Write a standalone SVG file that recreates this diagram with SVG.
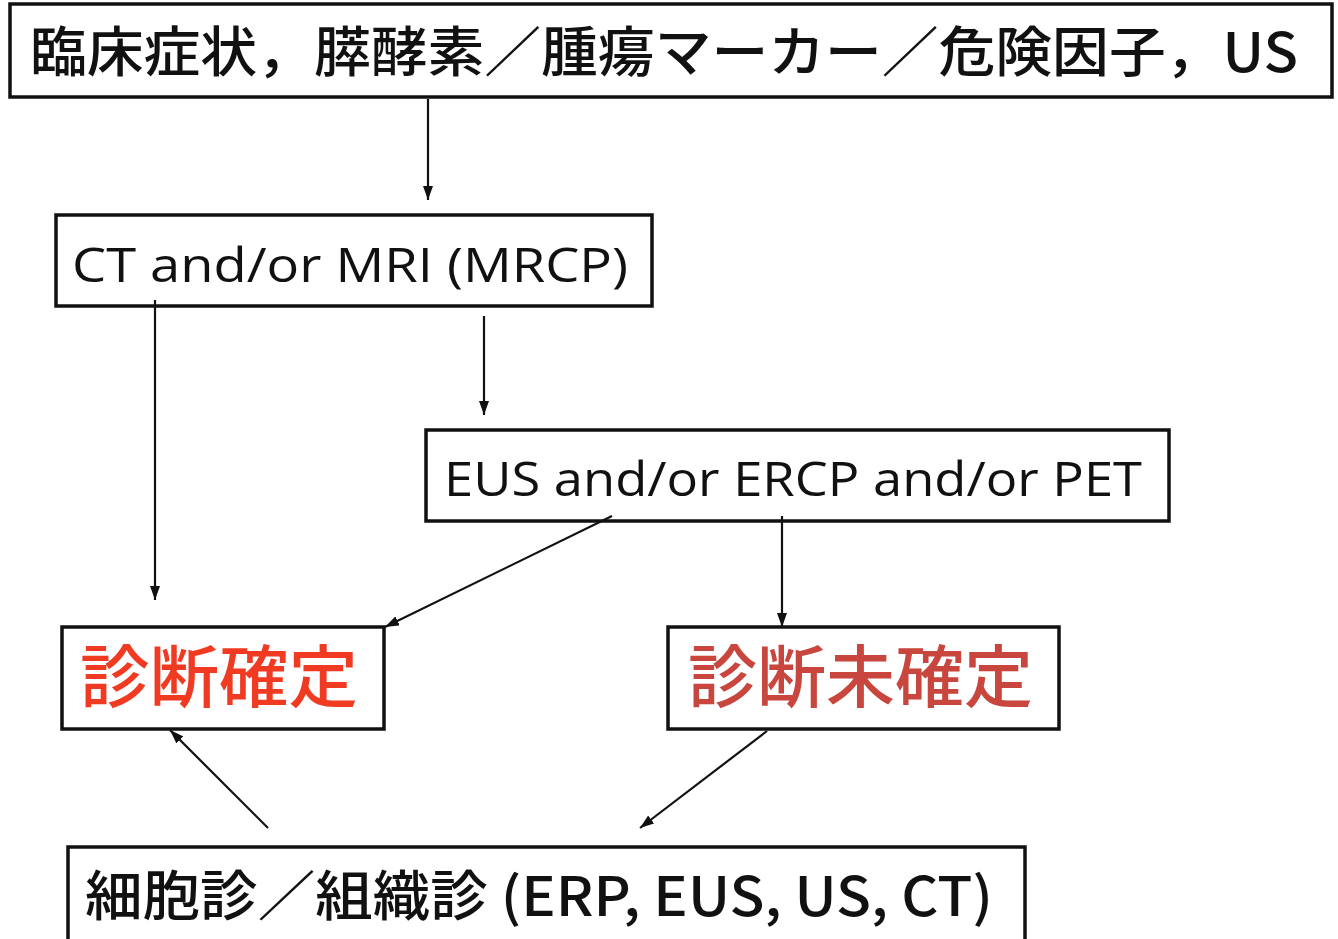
<svg xmlns="http://www.w3.org/2000/svg" width="1338" height="939" viewBox="0 0 1338 939">
<style>
.box{fill:#fff;stroke:#111;stroke-width:3.5}
.t{font-family:"Noto Sans CJK JP","Noto Sans",sans-serif;fill:#111;font-weight:500}
.lat{font-family:"Open Sans","Noto Sans",sans-serif;fill:#111}
.c{stroke:#111;stroke-width:2.2;fill:none;marker-end:url(#ah)}
</style>
<defs>
<marker id="ah" viewBox="0 0 14 10" refX="14" refY="5" markerWidth="14" markerHeight="10" markerUnits="userSpaceOnUse" orient="auto"><path d="M0,0 L14,5 L0,10 z" fill="#111"/></marker>
</defs>
<rect width="1338" height="939" fill="#fff"/>
<g id="n1"><rect class="box" x="10" y="4" width="1322" height="93"/>
<text class="t" x="30" y="72" font-size="54" textLength="1268" lengthAdjust="spacingAndGlyphs">臨床症状，膵酵素／腫瘍マーカー／危険因子，US</text></g>
<g id="n2"><rect class="box" x="56" y="215" width="596" height="91"/>
<text class="lat" x="72" y="282" font-size="47" textLength="556" lengthAdjust="spacingAndGlyphs">CT and/or MRI (MRCP)</text></g>
<g id="n3"><rect class="box" x="426" y="430" width="743" height="91"/>
<text class="lat" x="444" y="496" font-size="47" textLength="698" lengthAdjust="spacingAndGlyphs">EUS and/or ERCP and/or PET</text></g>
<g id="n4"><rect class="box" x="62" y="627" width="322" height="102"/>
<text class="t" x="80" y="702" font-size="68" style="fill:#f03a22" textLength="278" lengthAdjust="spacingAndGlyphs">診断確定</text></g>
<g id="n5"><rect class="box" x="668" y="627" width="391" height="102"/>
<text class="t" x="688" y="702" font-size="68" style="fill:#c8463e" textLength="345" lengthAdjust="spacingAndGlyphs">診断未確定</text></g>
<g id="n6"><rect class="box" x="68" y="847" width="957" height="96"/>
<text class="t" x="85" y="916" font-size="54" textLength="908" lengthAdjust="spacingAndGlyphs">細胞診／組織診 (ERP, EUS, US, CT)</text></g>
<g id="connectors">
<line class="c" x1="428" y1="99" x2="428" y2="200"/>
<line class="c" x1="155" y1="300" x2="155" y2="600"/>
<line class="c" x1="484" y1="316" x2="484" y2="415"/>
<line class="c" x1="612" y1="516" x2="385" y2="627"/>
<line class="c" x1="782" y1="516" x2="782" y2="627"/>
<line class="c" x1="268" y1="828" x2="170" y2="730"/>
<line class="c" x1="767" y1="731" x2="640" y2="828"/>
</g>
</svg>
